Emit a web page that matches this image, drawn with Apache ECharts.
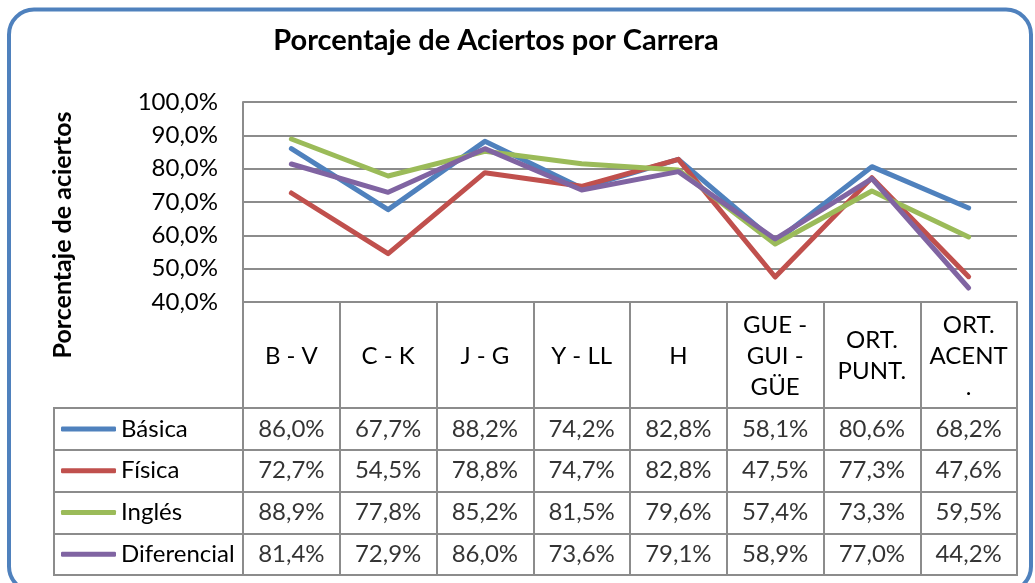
<!DOCTYPE html>
<html>
<head>
<meta charset="utf-8">
<script src="https://cdn.jsdelivr.net/npm/echarts@6/dist/echarts.min.js"></script>
<style>
  html, body { margin: 0; padding: 0; background: #fff; }
  #chart { width: 1035px; height: 583px; }
</style>
</head>
<body>
<div id="chart"></div>
<script>
// categorias (cabecera de la tabla)
var categorias = ['B - V', 'C - K', 'J - G', 'Y - LL', 'H', 'GUE -\nGUI -\nGÜE', 'ORT.\nPUNT.', 'ORT.\nACENT\n.'];
var carreras = ['Básica', 'Física', 'Inglés', 'Diferencial'];
var colores = ['#4f81bd', '#c0504d', '#9bbb59', '#8064a2'];

var basica      = [86.0, 67.7, 88.2, 74.2, 82.8, 58.1, 80.6, 68.2];
var fisica      = [72.7, 54.5, 78.8, 74.7, 82.8, 47.5, 77.3, 47.6];
var ingles      = [88.9, 77.8, 85.2, 81.5, 79.6, 57.4, 73.3, 59.5];
var diferencial = [81.4, 72.9, 86.0, 73.6, 79.1, 58.9, 77.0, 44.2];

var yTicks = { min: 40, max: 100, interval: 10 };

var valores = [basica, fisica, ingles, diferencial];

var FONT = 'Lato, sans-serif';
var GRIS = '#8c8c8c';
var TXT = 24;

function pct(v) {
    return v.toFixed(1).replace('.', ',') + '%';
}

// celdas de la tabla de datos
var celdas = [];
valores.forEach(function (serie, fila) {
    serie.forEach(function (v, col) {
        celdas.push([col, fila, pct(v)]);
    });
});

var series = carreras.map(function (nombre, i) {
    return {
        name: nombre,
        type: 'line',
        xAxisIndex: 0,
        yAxisIndex: 0,
        data: valores[i],
        symbol: 'none',
        color: colores[i],
        lineStyle: { width: 5, color: colores[i], cap: 'round', join: 'round' }
    };
});
series.push({
    name: 'tabla',
    type: 'scatter',
    xAxisIndex: 1,
    yAxisIndex: 1,
    data: celdas,
    symbolSize: 1,
    silent: true,
    itemStyle: { color: 'transparent' },
    label: {
        show: true,
        position: 'inside',
        formatter: function (p) { return p.value[2]; },
        fontFamily: FONT,
        fontSize: TXT,
        color: '#000'
    }
});

var option = {
    animation: false,
    backgroundColor: '#fff',
    title: {
        text: 'Porcentaje de Aciertos por Carrera',
        left: 491,
        top: 21,
        textAlign: 'center',
        textStyle: { fontFamily: FONT, fontWeight: 'bold', fontSize: 29, color: '#000' }
    },
    legend: {
        data: carreras,
        orient: 'vertical',
        left: 61,
        top: 408,
        padding: 0,
        itemGap: 0,
        itemWidth: 55,
        itemHeight: 5,
        icon: 'roundRect',
        selectedMode: false,
        textStyle: { fontFamily: FONT, fontSize: TXT, color: '#000', lineHeight: 41.75 }
    },
    grid: [
        { left: 243, top: 102, width: 774, height: 200 },
        { left: 243, top: 408, width: 774, height: 167, show: true, borderColor: GRIS, borderWidth: 2 },
        { left: 54, top: 408, width: 189, height: 167, show: true, borderColor: GRIS, borderWidth: 2 }
    ],
    xAxis: [
        {
            type: 'category',
            gridIndex: 0,
            data: categorias,
            boundaryGap: true,
            axisLine: { show: true, lineStyle: { color: GRIS, width: 2 } },
            axisTick: { show: true, interval: 0, length: 106, lineStyle: { color: GRIS, width: 2 } },
            axisLabel: {
                interval: 0, margin: 54, verticalAlign: 'middle', lineHeight: 31,
                fontFamily: FONT, fontSize: TXT, color: '#000'
            },
            splitLine: { show: false }
        },
        {
            type: 'category',
            gridIndex: 1,
            data: categorias,
            boundaryGap: true,
            axisLine: { show: false },
            axisTick: { show: false },
            axisLabel: { show: false },
            splitLine: { show: true, interval: 0, lineStyle: { color: GRIS, width: 2 } }
        },
        { type: 'value', gridIndex: 2, show: false }
    ],
    yAxis: [
        {
            type: 'value',
            gridIndex: 0,
            min: yTicks.min,
            max: yTicks.max,
            interval: yTicks.interval,
            axisLine: { show: true, lineStyle: { color: GRIS, width: 2 } },
            axisTick: { show: false },
            splitLine: { show: true, lineStyle: { color: GRIS, width: 2 } },
            axisLabel: {
                margin: 25, formatter: pct,
                fontFamily: FONT, fontSize: TXT, color: '#000'
            }
        },
        {
            type: 'category',
            gridIndex: 1,
            data: carreras,
            inverse: true,
            axisLine: { show: false },
            axisTick: { show: false },
            axisLabel: { show: false },
            splitLine: { show: true, interval: 0, lineStyle: { color: GRIS, width: 2 } }
        },
        {
            type: 'category',
            gridIndex: 2,
            data: carreras,
            inverse: true,
            axisLine: { show: false },
            axisTick: { show: false },
            axisLabel: { show: false },
            splitLine: { show: true, interval: 0, lineStyle: { color: GRIS, width: 2 } }
        }
    ],
    graphic: [
        {
            type: 'rect',
            shape: { x: 9, y: 9.5, width: 1022, height: 582, r: 25 },
            style: { fill: null, stroke: '#4f81bd', lineWidth: 4 },
            silent: true
        },
        {
            type: 'text',
            x: 63,
            y: 235,
            rotation: Math.PI / 2,
            style: {
                text: 'Porcentaje de aciertos',
                fontFamily: FONT, fontWeight: 'bold', fontSize: 25, fill: '#000',
                align: 'center', verticalAlign: 'middle'
            },
            silent: true
        }
    ],
    series: series
};

var myChart = echarts.init(document.getElementById('chart'));
myChart.setOption(option);
</script>
</body>
</html>
